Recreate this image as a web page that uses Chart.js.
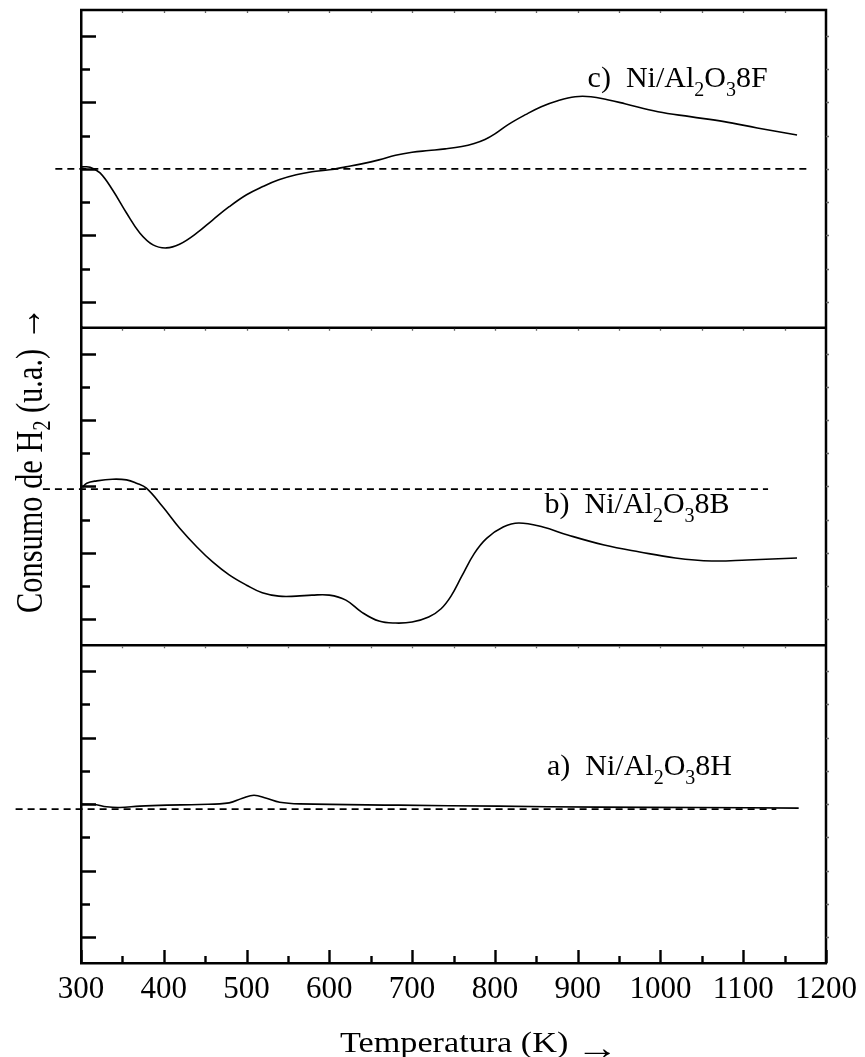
<!DOCTYPE html>
<html>
<head>
<meta charset="utf-8">
<script src="https://cdn.jsdelivr.net/npm/chart.js@4.4.1/dist/chart.umd.min.js"></script>
<style>
  html, body { margin: 0; padding: 0; background: #fff; }
  #wrap { width: 865px; height: 1057px; position: relative; }
</style>
</head>
<body>
<div id="wrap"><canvas id="tpr"></canvas></div>
<script>
// TPR profiles, H2 consumption (arbitrary units) vs temperature (K)
// a) Ni/Al2O3 8H
const tempA   = [301, 317, 331, 347, 371, 404, 443, 479, 495, 509, 524, 540, 564, 684, 804, 924, 1045, 1167];
const signalA = [0, -0.01, -0.08, -0.1, -0.06, -0.03, -0.01, 0.04, 0.18, 0.27, 0.18, 0.06, 0.01, -0.03, -0.06, -0.09, -0.1, -0.12];

// b) Ni/Al2O3 8B
const tempB   = [302, 307, 319, 338, 355, 367, 379, 399, 419, 440, 459, 479, 500, 519, 539, 560, 579, 600, 620, 639, 660, 680, 700, 720, 735, 747, 760, 775, 790, 810, 829, 858, 888, 932, 975, 1018, 1062, 1105, 1165];
const signalB = [-0.02, 0.1, 0.17, 0.22, 0.2, 0.1, -0.05, -0.62, -1.25, -1.82, -2.27, -2.66, -2.97, -3.2, -3.3, -3.3, -3.27, -3.27, -3.42, -3.78, -4.05, -4.11, -4.08, -3.93, -3.68, -3.3, -2.7, -2.02, -1.56, -1.22, -1.1, -1.22, -1.46, -1.76, -1.97, -2.15, -2.24, -2.21, -2.15];

// c) Ni/Al2O3 8F
const tempC   = [301, 311, 323, 338, 355, 371, 387, 403, 419, 440, 459, 479, 500, 519, 539, 560, 579, 600, 620, 639, 660, 680, 700, 720, 740, 760, 775, 788, 800, 816, 837, 856, 876, 897, 916, 936, 957, 997, 1036, 1077, 1117, 1165];
const signalC = [0.06, 0.05, -0.12, -0.63, -1.33, -1.93, -2.29, -2.38, -2.27, -1.93, -1.54, -1.14, -0.78, -0.54, -0.33, -0.18, -0.09, -0.03, 0.06, 0.15, 0.27, 0.41, 0.5, 0.55, 0.6, 0.67, 0.76, 0.88, 1.05, 1.33, 1.63, 1.87, 2.05, 2.17, 2.17, 2.08, 1.96, 1.72, 1.57, 1.42, 1.23, 1.02];

// dashed reference baselines of each profile
const baseTempA = [221, 1140];
const baseA     = [-0.15, -0.15];
const baseTempB = [254, 1130];
const baseB     = [-0.08, -0.08];
const baseTempC = [269, 1181];
const baseC     = [0, 0];

// axis ticks
const tempTicks    = [300, 400, 500, 600, 700, 800, 900, 1000, 1100, 1200];
const tempMinor    = [350, 450, 550, 650, 750, 850, 950, 1050, 1150];
const panelTicks   = [-4, -3, -2, -1, 0, 1, 2, 3, 4];

// sample names
const panelLetters = ['a)', 'b)', 'c)'];
const sampleCodes  = ['8H', '8B', '8F'];

const SERIF = '"Liberation Serif", "Times New Roman", Times, serif';

const toXY = (xs, ys) => xs.map((x, i) => ({ x: x, y: ys[i] }));

function curve(xs, ys, axis) {
  return {
    data: toXY(xs, ys), yAxisID: axis,
    borderColor: '#000', borderWidth: 1.6,
    pointRadius: 0, tension: 0.4, fill: false
  };
}
function baseline(xs, ys, axis) {
  return {
    data: toXY(xs, ys), yAxisID: axis,
    borderColor: '#000', borderWidth: 1.6, borderDash: [7, 5],
    pointRadius: 0, tension: 0, fill: false, clip: false
  };
}

function panelAxis() {
  return {
    type: 'linear', position: 'left', stack: 'panels', stackWeight: 1,
    min: -4.78, max: 4.78,
    ticks: { display: false },
    grid: { display: false, drawTicks: false },
    border: { display: true, color: '#000', width: 2.5 },
    afterFit: (s) => { s.width = 0; }
  };
}

// sample label as a chemical formula with subscripts
function drawFormula(ctx, x, y, letter, code, size) {
  const parts = [[letter + '  Ni/Al', false], ['2', true], ['O', false], ['3', true], [code, false]];
  let cx = x;
  ctx.textBaseline = 'alphabetic';
  ctx.textAlign = 'left';
  for (const [t, sub] of parts) {
    ctx.font = (sub ? Math.round(size * 0.67) : size) + 'px ' + SERIF;
    ctx.fillText(t, cx, sub ? y + size * 0.3 : y);
    cx += ctx.measureText(t).width;
  }
}

const decor = {
  id: 'decor',
  afterDraw(chart) {
    const { ctx, chartArea, scales } = chart;
    const { left, right, top, bottom } = chartArea;
    const panels = [scales.yA, scales.yB, scales.yC];
    ctx.save();
    ctx.strokeStyle = '#000';
    ctx.fillStyle = '#000';
    ctx.lineCap = 'butt';

    // frame top/right and separators between panels
    ctx.lineWidth = 2.5;
    ctx.beginPath();
    ctx.moveTo(left - 1, top); ctx.lineTo(right, top); ctx.lineTo(right, bottom + 1);
    ctx.moveTo(left, scales.yA.top); ctx.lineTo(right, scales.yA.top);
    ctx.moveTo(left, scales.yB.top); ctx.lineTo(right, scales.yB.top);
    ctx.stroke();

    // inward ticks on the left edge of each panel
    ctx.lineWidth = 2.4;
    ctx.beginPath();
    for (const s of panels) {
      for (const v of panelTicks) {
        const y = Math.round(s.getPixelForValue(v)) + 0.5;
        const len = (v % 2 === 0) ? 15 : 9;
        ctx.moveTo(left, y); ctx.lineTo(left + len, y);
      }
    }
    // inward ticks on the temperature axis
    for (const t of tempTicks) {
      const x = Math.round(scales.x.getPixelForValue(t)) + 0.5;
      ctx.moveTo(x, bottom); ctx.lineTo(x, bottom - 13);
    }
    for (const t of tempMinor) {
      const x = Math.round(scales.x.getPixelForValue(t)) + 0.5;
      ctx.moveTo(x, bottom); ctx.lineTo(x, bottom - 7);
    }
    ctx.stroke();

    // faint mirror ticks on the right edge and the horizontal frame lines
    ctx.lineWidth = 1.3;
    ctx.strokeStyle = '#666';
    ctx.beginPath();
    for (const s of panels) {
      for (const v of panelTicks) {
        const y = Math.round(s.getPixelForValue(v)) + 0.5;
        ctx.moveTo(right, y); ctx.lineTo(right + 3, y);
      }
    }
    for (const yEdge of [top, scales.yA.top, scales.yB.top]) {
      for (const t of tempTicks.concat(tempMinor)) {
        const x = Math.round(scales.x.getPixelForValue(t)) + 0.5;
        if (x <= left + 2 || x >= right - 2) continue;
        ctx.moveTo(x, yEdge + 1); ctx.lineTo(x, yEdge + 3);
      }
    }
    ctx.stroke();

    // sample labels
    const labelAt = [
      { t: 863, v: 0.87 },
      { t: 860, v: -0.8 },
      { t: 912, v: 2.47 }
    ];
    panels.forEach((s, i) => {
      const x = scales.x.getPixelForValue(labelAt[i].t);
      const y = s.getPixelForValue(labelAt[i].v);
      drawFormula(ctx, x, y, panelLetters[i], sampleCodes[i], 30);
    });

    // x axis title
    ctx.save();
    ctx.translate(340, 1052);
    ctx.scale(1.14, 1);
    ctx.font = '30px ' + SERIF;
    ctx.textAlign = 'left';
    ctx.textBaseline = 'alphabetic';
    ctx.fillText('Temperatura (K)', 0, 0);
    ctx.restore();
    ctx.save();
    ctx.translate(576, 1050);
    ctx.scale(1.25, 1);
    ctx.font = 'bold 34px ' + SERIF;
    ctx.textBaseline = 'middle';
    ctx.textAlign = 'left';
    ctx.fillText('\u2192', 0, 0);
    ctx.restore();

    // y axis title, rotated
    ctx.save();
    ctx.translate(42, 613);
    ctx.rotate(-Math.PI / 2);
    ctx.scale(0.8, 1);
    ctx.textAlign = 'left';
    ctx.textBaseline = 'alphabetic';
    let w = 0;
    const big = '38px ' + SERIF, small = '25px ' + SERIF;
    ctx.font = big; ctx.fillText('Consumo de H', w, 0); w += ctx.measureText('Consumo de H').width;
    ctx.font = small; ctx.fillText('2', w, 8); w += ctx.measureText('2').width;
    ctx.font = big; ctx.fillText(' (u.a.)', w, 0); w += ctx.measureText(' (u.a.)').width;
    ctx.font = '42px ' + SERIF;
    ctx.fillText(' \u2192', w, -1);
    ctx.restore();

    ctx.restore();
  }
};

new Chart(document.getElementById('tpr'), {
  type: 'line',
  data: {
    datasets: [
      baseline(baseTempA, baseA, 'yA'),
      baseline(baseTempB, baseB, 'yB'),
      baseline(baseTempC, baseC, 'yC'),
      curve(tempA, signalA, 'yA'),
      curve(tempB, signalB, 'yB'),
      curve(tempC, signalC, 'yC')
    ]
  },
  options: {
    responsive: true,
    maintainAspectRatio: false,
    devicePixelRatio: 1,
    animation: false,
    events: [],
    layout: { padding: { left: 81, right: 33, top: 10, bottom: 0 } },
    plugins: { legend: { display: false }, tooltip: { enabled: false }, title: { display: false } },
    scales: {
      x: {
        type: 'linear', position: 'bottom',
        min: 300, max: 1200,
        afterBuildTicks: (s) => { s.ticks = tempTicks.map(v => ({ value: v })); },
        ticks: {
          color: '#000', padding: 8, maxRotation: 0, autoSkip: false,
          font: { family: SERIF, size: 31 },
          callback: (v) => String(v)
        },
        grid: { display: false, drawTicks: false },
        border: { display: true, color: '#000', width: 2.5 },
        afterFit: (s) => { s.height = 94; }
      },
      yA: panelAxis(),
      yB: panelAxis(),
      yC: panelAxis()
    }
  },
  plugins: [decor]
});
</script>
</body>
</html>
